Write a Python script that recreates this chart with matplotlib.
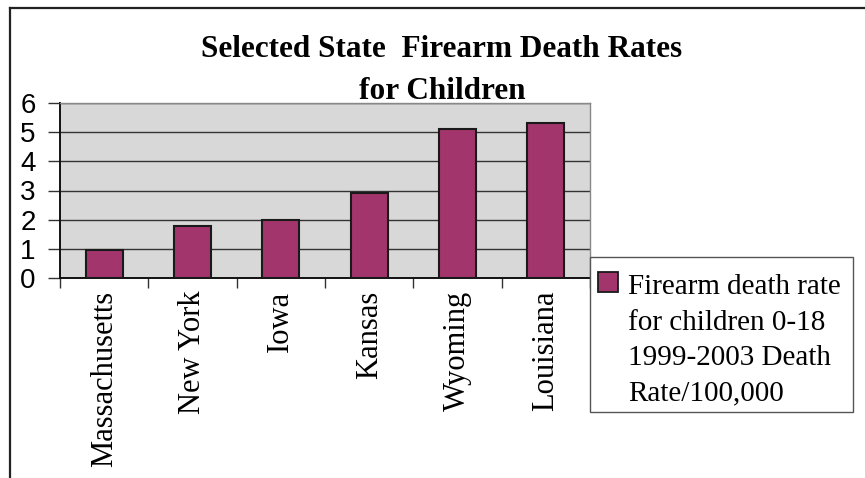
import matplotlib
matplotlib.use("Agg")
from matplotlib import pyplot as plt
from matplotlib.patches import Rectangle

states = ["Massachusetts", "New York", "Iowa", "Kansas", "Wyoming", "Louisiana"]
rates = [0.95, 1.8, 2.0, 2.9, 5.1, 5.3]
y_ticks = [0, 1, 2, 3, 4, 5, 6]
legend_lines = ["Firearm death rate", "for children 0-18", "1999-2003 Death", "Rate/100,000"]

bar_color = "#A2366C"
serif = ["Liberation Serif", "DejaVu Serif"]

fig = plt.figure(figsize=(8.65, 4.78), dpi=100)
fig.patch.set_facecolor("white")

# outer chart frame (only top and left edges visible in the scan)
fig.add_artist(plt.Line2D([10 / 865, 10 / 865], [0, 1 - 8 / 478], transform=fig.transFigure,
                          color="#222222", lw=1.6))
fig.add_artist(plt.Line2D([10 / 865, 1], [1 - 8 / 478, 1 - 8 / 478], transform=fig.transFigure,
                          color="#222222", lw=1.6))

ax = fig.add_axes([60 / 865, 1 - 278 / 478, 530 / 865, 175 / 478])
ax.set_facecolor("#D8D8D8")

x = range(len(states))
ax.bar(x, rates, width=0.42, color=bar_color, edgecolor="#1a1a1a", linewidth=1.5, zorder=3)

ax.set_xlim(-0.5, len(states) - 0.5)
ax.set_ylim(0, 6)
ax.set_yticks(y_ticks)
ax.set_yticklabels([str(v) for v in y_ticks], fontsize=20, family="Liberation Sans")
ax.yaxis.grid(True, color="#333333", lw=1.0, zorder=1)
ax.tick_params(axis="y", length=8.6, width=1.0, color="#333333", pad=9)

# category ticks sit between the bars
ax.set_xticks([i - 0.5 for i in range(len(states) + 1)], minor=False)
ax.set_xticklabels([""] * (len(states) + 1))
ax.tick_params(axis="x", length=7, width=1.0, color="#333333")
ax.set_xticks(list(x), minor=True)
ax.set_xticklabels(states, minor=True, rotation=90, fontsize=22, family=serif, va="top")
ax.tick_params(axis="x", which="minor", length=0, pad=9)

for side in ["left", "bottom"]:
    ax.spines[side].set_color("#111111")
    ax.spines[side].set_linewidth(1.4)
for side in ["top", "right"]:
    ax.spines[side].set_color("#888888")
    ax.spines[side].set_linewidth(1.0)

# title
fig.text(442 / 865, 1 - 57 / 478, "Selected State  Firearm Death Rates", ha="center", va="baseline",
         fontsize=22.5, fontweight="bold", family=serif)
fig.text(442 / 865, 1 - 99 / 478, "for Children", ha="center", va="baseline",
         fontsize=22.5, fontweight="bold", family=serif)

# legend box
fig.add_artist(Rectangle((590 / 865, 1 - 412 / 478), 263 / 865, 155 / 478, transform=fig.transFigure,
                         facecolor="white", edgecolor="#555555", lw=1.0))
fig.add_artist(Rectangle((598 / 865, 1 - 292 / 478), 20 / 865, 20 / 478, transform=fig.transFigure,
                         facecolor=bar_color, edgecolor="#1a1a1a", lw=1.3))
for i, line in enumerate(legend_lines):
    fig.text(628 / 865, 1 - (294 + 35.5 * i) / 478, line, ha="left", va="baseline", fontsize=21,
             family=serif)

fig.savefig("out.png", dpi=100)
